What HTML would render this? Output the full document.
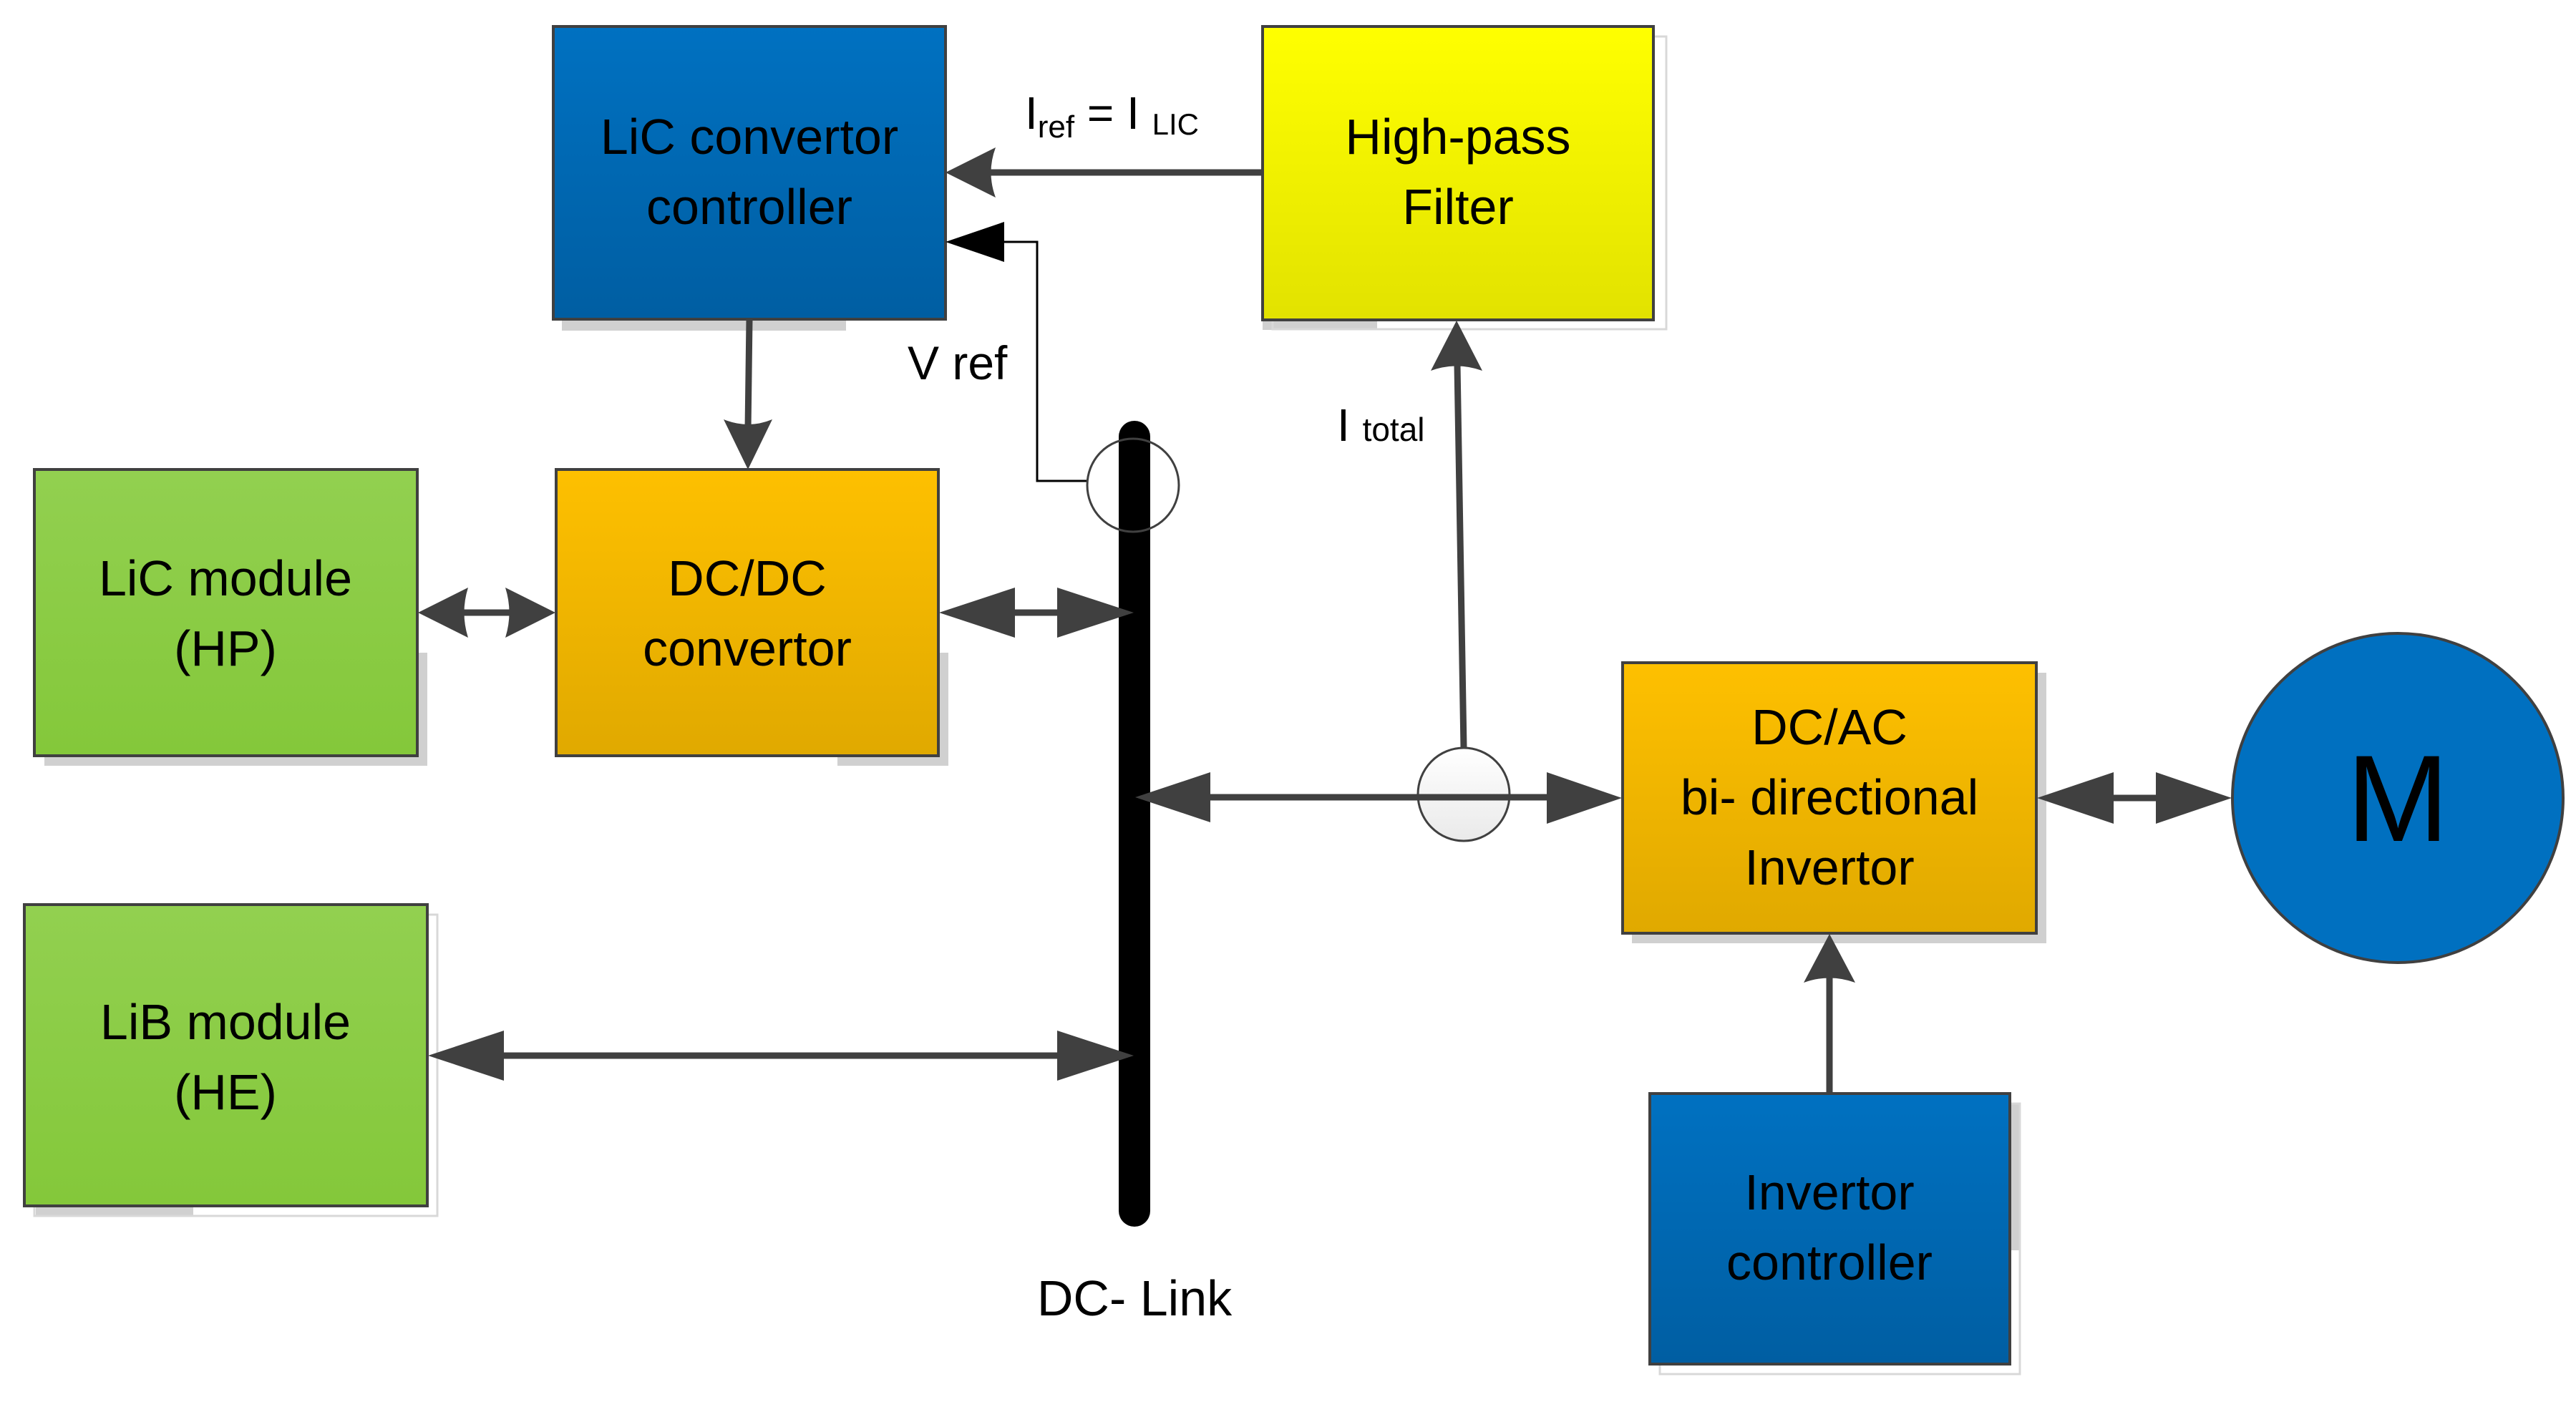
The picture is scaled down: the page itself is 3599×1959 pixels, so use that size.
<!DOCTYPE html>
<html><head><meta charset="utf-8"><style>
html,body{margin:0;padding:0;background:#fff}
svg{display:block}
text{font-family:"Liberation Sans",sans-serif;fill:#000}
</style></head><body>
<svg width="3599" height="1959" viewBox="0 0 3599 1959" xmlns="http://www.w3.org/2000/svg">
<defs>
<linearGradient id="gb" x1="0" y1="0" x2="0" y2="1"><stop offset="0" stop-color="#0071c1"/><stop offset="1" stop-color="#005ea2"/></linearGradient>
<linearGradient id="go" x1="0" y1="0" x2="0" y2="1"><stop offset="0" stop-color="#fec000"/><stop offset="1" stop-color="#e0a900"/></linearGradient>
<linearGradient id="gg" x1="0" y1="0" x2="0" y2="1"><stop offset="0" stop-color="#92d050"/><stop offset="1" stop-color="#84c83a"/></linearGradient>
<linearGradient id="gy" x1="0" y1="0" x2="0" y2="1"><stop offset="0" stop-color="#ffff00"/><stop offset="1" stop-color="#e2e200"/></linearGradient>
<linearGradient id="gw" x1="0" y1="0" x2="0" y2="1"><stop offset="0" stop-color="#ffffff"/><stop offset="1" stop-color="#e6e6e6"/></linearGradient>
</defs>

<g fill="#d0d0d0">
<rect x="785" y="446" width="397" height="16"/>
<rect x="1764" y="447" width="160" height="14"/>
<rect x="62" y="1056" width="535" height="14"/>
<rect x="583" y="912" width="14" height="158"/>
<rect x="1311" y="912" width="14" height="158"/>
<rect x="1170" y="1056" width="155" height="14"/>
<rect x="50" y="1685" width="220" height="14"/>
<rect x="2845" y="940" width="14" height="378"/>
<rect x="2280" y="1304" width="579" height="14"/>
<rect x="2808" y="1542" width="14" height="205"/>
</g>
<g fill="none" stroke="#d8d8d8" stroke-width="3">
<rect x="1778" y="51" width="550" height="409"/>
<rect x="48" y="1278" width="563" height="421"/>
<rect x="2319" y="1542" width="503" height="378"/>
</g>

<g stroke="#404040" stroke-width="4">
<rect x="773" y="37" width="548" height="409" fill="url(#gb)"/>
<rect x="1764" y="37" width="546" height="410" fill="url(#gy)"/>
<rect x="48" y="656" width="535" height="400" fill="url(#gg)"/>
<rect x="777" y="656" width="534" height="400" fill="url(#go)"/>
<rect x="34" y="1264" width="563" height="421" fill="url(#gg)"/>
<rect x="2267" y="926" width="578" height="378" fill="url(#go)"/>
<rect x="2305" y="1528" width="503" height="378" fill="url(#gb)"/>
<ellipse cx="3350" cy="1115" rx="231" ry="230" fill="#0070c0"/>
</g>

<line x1="1585" y1="610" x2="1585" y2="1692" stroke="#000" stroke-width="44" stroke-linecap="round"/>

<g stroke="#404040" stroke-width="9" fill="none">
<line x1="1764" y1="241" x2="1380" y2="241"/>
<line x1="1047" y1="446" x2="1045" y2="600"/>
<line x1="640" y1="856" x2="720" y2="856"/>
<line x1="1410" y1="856" x2="1485" y2="856"/>
<line x1="1690" y1="1114" x2="2170" y2="1114"/>
<line x1="700" y1="1475" x2="1480" y2="1475"/>
<line x1="2045" y1="1045" x2="2036" y2="510"/>
<line x1="2950" y1="1115" x2="3015" y2="1115"/>
<line x1="2556" y1="1528" x2="2556" y2="1365"/>
</g>
<polyline points="1520,672 1449,672 1449,338 1400,338" fill="none" stroke="#000" stroke-width="3"/>

<g fill="#404040">
<path d="M1321,241 L1391,206 Q1378,241 1391,276 Z"/>
<path d="M1045,656 L1011,586 Q1045,600 1079,586 Z"/>
<path d="M584,856 L654,821 Q643,856 654,891 Z"/>
<path d="M776,856 L706,821 Q717,856 706,891 Z"/>
<path d="M1312,856 L1418,821 L1418,891 Z"/>
<path d="M1584,856 L1477,821 L1477,891 Z"/>
<path d="M1586,1114 L1691,1079 L1691,1149 Z"/>
<path d="M2266,1115 L2161,1079 L2161,1151 Z"/>
<path d="M598,1475 L704,1440 L704,1510 Z"/>
<path d="M1584,1475 L1477,1440 L1477,1510 Z"/>
<path d="M2846,1115 L2953,1079 L2953,1151 Z"/>
<path d="M3118,1115 L3012,1079 L3012,1151 Z"/>
<path d="M2035,448 L1999,518 Q2035,505 2071,518 Z"/>
<path d="M2556,1305 L2520,1373 Q2556,1360 2592,1373 Z"/>
</g>
<path d="M1321,338 L1403,310 L1403,366 Z" fill="#000"/>

<ellipse cx="1583" cy="678" rx="64" ry="65" fill="none" stroke="#404040" stroke-width="3"/>
<ellipse cx="2045" cy="1110" rx="64" ry="65" fill="url(#gw)" fill-opacity="0.85" stroke="#404040" stroke-width="3"/>
<line x1="1981" y1="1114" x2="2109" y2="1114" stroke="#404040" stroke-width="9"/>

<g font-size="70" text-anchor="middle">
<text x="1047" y="215">LiC convertor</text>
<text x="1047" y="313">controller</text>
<text x="2037" y="215">High-pass</text>
<text x="2037" y="313">Filter</text>
<text x="315" y="832">LiC module</text>
<text x="315" y="930">(HP)</text>
<text x="1044" y="832">DC/DC</text>
<text x="1044" y="930">convertor</text>
<text x="315" y="1452">LiB module</text>
<text x="315" y="1550">(HE)</text>
<text x="2556" y="1040">DC/AC</text>
<text x="2556" y="1138">bi- directional</text>
<text x="2556" y="1236">Invertor</text>
<text x="2556" y="1690">Invertor</text>
<text x="2556" y="1788">controller</text>
<text x="1585" y="1838">DC- Link</text>
</g>
<text x="3350" y="1175" font-size="172" text-anchor="middle">M</text>

<text x="1432" y="180" font-size="64">I<tspan font-size="44" dy="12">ref</tspan><tspan dy="-12"> = I </tspan><tspan font-size="42" dy="8">LIC</tspan></text>
<text x="1268" y="530" font-size="66">V ref</text>
<text x="1868" y="616" font-size="64">I <tspan font-size="46">total</tspan></text>
</svg>
</body></html>
